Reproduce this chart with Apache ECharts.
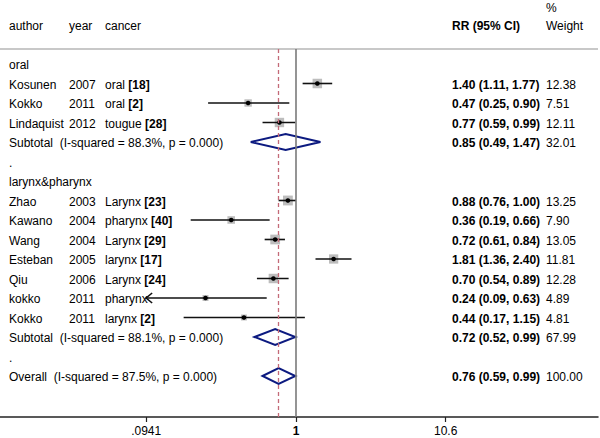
<!DOCTYPE html>
<html><head><meta charset="utf-8">
<script src="https://cdn.jsdelivr.net/npm/echarts@6/dist/echarts.min.js"></script>
<style>html,body{margin:0;padding:0;background:#fff}#c{width:600px;height:438px}</style>
</head><body><div id="c"></div>
<script>
// ---- data ----
const authors = ['oral','Kosunen','Kokko','Lindaquist','Subtotal  (I-squared = 88.3%, p = 0.000)','.','larynx&pharynx','Zhao','Kawano','Wang','Esteban','Qiu','kokko','Kokko','Subtotal  (I-squared = 88.1%, p = 0.000)','.','Overall  (I-squared = 87.5%, p = 0.000)'];
const years = ['','2007','2011','2012','','','','2003','2004','2004','2005','2006','2011','2011','','',''];
const cancers = ['','oral','oral','tougue','','','','Larynx','pharynx','Larynx','larynx','Larynx','pharynx','larynx','','',''];
const refs = ['','[18]','[2]','[28]','','','','[23]','[40]','[29]','[17]','[24]','','[2]','','',''];
const rowType = ['head','study','study','study','pooled','blank','head','study','study','study','study','study','study','study','pooled','blank','pooled'];
const rr = [null,1.40,0.47,0.77,0.85,null,null,0.88,0.36,0.72,1.81,0.70,0.24,0.44,0.72,null,0.76];
const lo = [null,1.11,0.25,0.59,0.49,null,null,0.76,0.19,0.61,1.36,0.54,0.09,0.17,0.52,null,0.59];
const hi = [null,1.77,0.90,0.99,1.47,null,null,1.00,0.66,0.84,2.40,0.89,0.63,1.15,0.99,null,0.99];
const weights = [null,12.38,7.51,12.11,32.01,null,null,13.25,7.90,13.05,11.81,12.28,4.89,4.81,67.99,null,100.00];
const tickValues = [0.0941, 1, 10.6];
const tickLabels = ['.0941', '1', '10.6'];
const headers = {author:'author', year:'year', cancer:'cancer', rr:'RR (95% CI)', pct:'%', weight:'Weight'};

// ---- layout / style ----
const FONT = '"Liberation Sans", Arial, sans-serif';
const COL = {author: 9, year: 69, cancer: 105, rr: 452, weight: 546};
const TEXT_DY = 1.5;
const X_MIN = -2.0274, X_MAX = 2.0685;
const Y_MIN = -0.769, Y_MAX = 18.103;
const L10 = v => Math.log10(v);
const overallIdx = rowType.lastIndexOf('pooled');

const chart = echarts.init(document.getElementById('c'), null, {renderer: 'svg'});

const studyData = [], pooledData = [], textData = [];
rr.forEach((v, i) => {
  textData.push([0, i]);
  if (v == null) return;
  const row = [i, L10(v), L10(lo[i]), L10(hi[i]), weights[i]];
  if (rowType[i] === 'study') studyData.push(row); else pooledData.push(row);
});
textData.push([0, -2]); // header row

function txt(text, x, y, extra) {
  return {type: 'text', style: Object.assign({text, x, y: y + TEXT_DY, fill: '#000', fontSize: 12, fontFamily: FONT, verticalAlign: 'middle', align: 'left'}, extra || {})};
}

const clipLog = L10(tickValues[0]);

const option = {
  animation: false,
  grid: {left: 0, right: 2, top: 49, bottom: 21},
  xAxis: {
    type: 'value', min: X_MIN, max: X_MAX,
    splitLine: {show: false},
    axisLine: {show: true, onZero: false, lineStyle: {color: '#222', width: 1.5}},
    axisTick: {show: true, length: 5, lineStyle: {color: '#222', width: 1.2}, customValues: tickValues.map(L10)},
    axisLabel: {
      show: true, margin: 8, fontSize: 12, fontFamily: FONT, color: '#000',
      customValues: tickValues.map(L10),
      formatter: v => {
        let k = 0, best = Infinity;
        tickValues.forEach((t, j) => { const d = Math.abs(L10(t) - v); if (d < best) { best = d; k = j; } });
        return tickLabels[k] === '1' ? '{b|1}' : tickLabels[k];
      },
      rich: {b: {fontWeight: 'bold', fontSize: 12, fontFamily: FONT, color: '#000'}}
    }
  },
  yAxis: {type: 'value', inverse: true, min: Y_MIN, max: Y_MAX, show: false},
  series: [
    {
      type: 'custom', name: 'lines', data: [[0, 5]], clip: false,
      renderItem: () => ({type: 'group', children: []}),
      markLine: {
        silent: true, symbol: 'none', label: {show: false},
        data: [
          {xAxis: L10(rr[overallIdx]), lineStyle: {color: '#c46a78', width: 1.3, type: [4, 3]}},
          {xAxis: 0, lineStyle: {color: '#7a7a7a', width: 1.6, type: 'solid'}}
        ]
      }
    },
    {
      type: 'custom', name: 'studies', data: studyData, clip: false,
      renderItem: (params, api) => {
        const i = api.value(0);
        const c = api.coord([api.value(1), i]);
        const l = api.value(2), h = api.value(3);
        const cl = Math.max(l, clipLog);
        const pl = api.coord([cl, i]), ph = api.coord([h, i]);
        const s = 2.7 * Math.sqrt(api.value(4));
        const ch = [
          {type: 'rect', shape: {x: c[0] - s / 2, y: c[1] - s / 2, width: s, height: s}, style: {fill: '#bdbdbd'}},
          {type: 'line', shape: {x1: pl[0], y1: pl[1], x2: ph[0], y2: ph[1]}, style: {stroke: '#111', lineWidth: 1.6}},
          {type: 'circle', shape: {cx: c[0], cy: c[1], r: 2.3}, style: {fill: '#000'}}
        ];
        if (l < clipLog) {
          ch.push({type: 'polyline', shape: {points: [[pl[0] + 6, pl[1] - 5], [pl[0], pl[1]], [pl[0] + 6, pl[1] + 5]]}, style: {stroke: '#111', lineWidth: 1.6, fill: 'none'}});
        }
        return {type: 'group', children: ch};
      }
    },
    {
      type: 'custom', name: 'pooled', data: pooledData, clip: false,
      renderItem: (params, api) => {
        const i = api.value(0);
        const c = api.coord([api.value(1), i]);
        const pl = api.coord([api.value(2), i]), ph = api.coord([api.value(3), i]);
        return {
          type: 'polygon',
          shape: {points: [[pl[0], c[1]], [c[0], c[1] - 8], [ph[0], c[1]], [c[0], c[1] + 8]]},
          style: {fill: 'none', stroke: '#0c1a80', lineWidth: 2}
        };
      }
    },
    {
      type: 'custom', name: 'table', data: textData, clip: false,
      renderItem: (params, api) => {
        const i = api.value(1);
        const y = api.coord([0, i])[1];
        if (i === -2) {
          const a = api.coord([X_MIN, Y_MIN]), b = api.coord([X_MAX, Y_MIN]);
          return {type: 'group', children: [
            {type: 'rect', shape: {x: a[0], y: a[1] - 1, width: b[0] - a[0], height: 2}, style: {fill: '#c8c8c8'}},
            txt(headers.author, COL.author, y),
            txt(headers.year, COL.year, y),
            txt(headers.cancer, COL.cancer, y),
            txt(headers.rr, COL.rr, y, {fontWeight: 'bold'}),
            txt(headers.pct, COL.weight, y - 18),
            txt(headers.weight, COL.weight, y)
          ]};
        }
        const ch = [txt(authors[i], COL.author, y)];
        if (years[i]) ch.push(txt(years[i], COL.year, y));
        if (cancers[i]) {
          const t = refs[i] ? cancers[i] + ' {b|' + refs[i] + '}' : cancers[i];
          ch.push(txt(t, COL.cancer, y, {rich: {b: {fontWeight: 'bold', fontSize: 12, fontFamily: FONT, fill: '#000'}}}));
        }
        if (rr[i] != null) {
          ch.push(txt(rr[i].toFixed(2) + ' (' + lo[i].toFixed(2) + ', ' + hi[i].toFixed(2) + ')', COL.rr, y, {fontWeight: 'bold'}));
          ch.push(txt(weights[i].toFixed(2), COL.weight, y));
        }
        return {type: 'group', children: ch};
      }
    }
  ]
};
chart.setOption(option);
</script>
</body></html>
